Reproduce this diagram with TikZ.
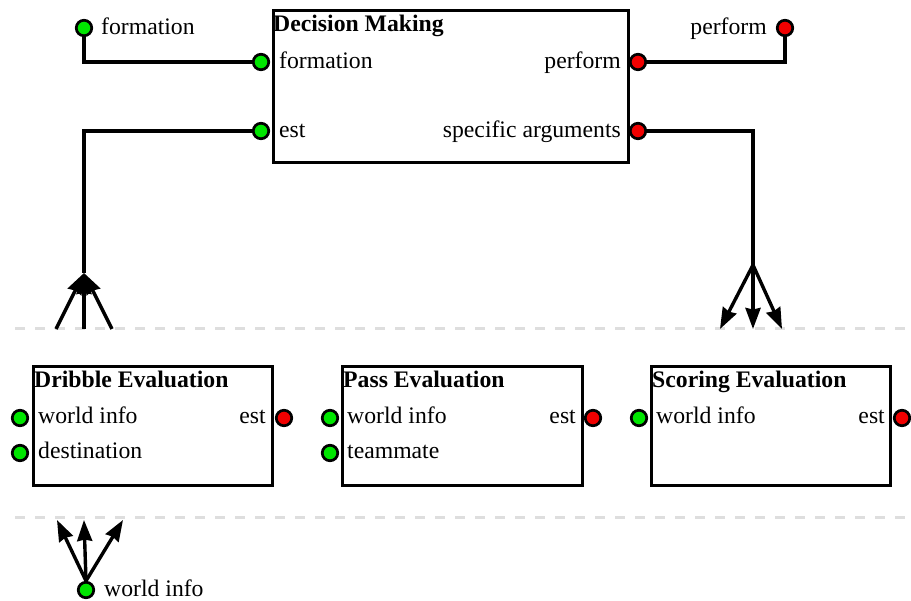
\documentclass[tikz,border=0pt]{standalone}
\usepackage{fontspec}
\setmainfont{Liberation Serif}
\usetikzlibrary{arrows.meta}
\definecolor{portgreen}{RGB}{0,230,0}
\definecolor{portred}{RGB}{240,0,0}
\definecolor{sepgray}{RGB}{222,222,222}
\begin{document}
\begin{tikzpicture}[x=1pt,y=-1pt,
  port/.style={circle, draw=black, line width=2.7pt, minimum size=15.5pt, inner sep=0pt},
  inport/.style={port, fill=portgreen},
  outport/.style={port, fill=portred},
  block/.style={draw=black, line width=3.4pt, inner sep=0pt, anchor=north west, fill=white},
  lbl/.style={inner sep=0pt, font=\fontsize{23.7}{28}\selectfont},
  ttl/.style={lbl, font=\fontsize{23.7}{28}\selectfont\bfseries},
  wire/.style={line width=3.4pt},
  tipwire/.style={line width=3.4pt, -{Stealth[length=21pt,width=15pt,inset=1.5pt]}},
  sep/.style={draw=sepgray, line width=3pt, dash pattern=on 10pt off 10pt}
]
\useasboundingbox (0,0) rectangle (911,601);

% separators
\draw[sep] (15,329) -- (911,329);
\draw[sep] (15,518) -- (911,518);

% Decision Making block
\node[block, minimum width=355pt, minimum height=152pt] (dm) at (272,9) {};
\node[ttl, anchor=base west] (dmt) at (273,32) {Decision Making};
\node[inport] (dmform) at (261,62) {};
\node[inport] (dmest) at (261,131) {};
\node[outport] (dmperf) at (638,62) {};
\node[outport] (dmspec) at (638,131) {};
\node[lbl, anchor=base west] (dmformt) at (279,69) {formation};
\node[lbl, anchor=base west] (dmestt) at (279,138) {est};
\node[lbl, anchor=base east] (dmperft) at (621,69) {perform};
\node[lbl, anchor=base east] (dmspect) at (621,138) {specific arguments};

% external ports
\node[inport] (exform) at (84,28) {};
\node[lbl, anchor=base west] (exformt) at (101,35) {formation};
\node[outport] (experf) at (785,28) {};
\node[lbl, anchor=base east] (experft) at (767,35) {perform};

\draw[wire] (exform) |- (dmform);
\draw[wire] (dmperf) -| (experf);

% Dribble Evaluation
\node[block, minimum width=239pt, minimum height=119pt] (dr) at (32,365) {};
\node[ttl, anchor=base west] (drt) at (34,388) {Dribble Evaluation};
\node[inport] (drw) at (20,418) {};
\node[inport] (drd) at (20,453) {};
\node[outport] (dre) at (284,418) {};
\node[lbl, anchor=base west] (drwt) at (38,424) {world info};
\node[lbl, anchor=base west] (drdt) at (38,459) {destination};
\node[lbl, anchor=base east] (dret) at (266,424) {est};

% Pass Evaluation
\node[block, minimum width=240pt, minimum height=119pt] (pa) at (341,365) {};
\node[ttl, anchor=base west] (pat) at (343,388) {Pass Evaluation};
\node[inport] (paw) at (330,418) {};
\node[inport] (pam) at (330,453) {};
\node[outport] (pae) at (593,418) {};
\node[lbl, anchor=base west] (pawt) at (347,424) {world info};
\node[lbl, anchor=base west] (pamt) at (347,459) {teammate};
\node[lbl, anchor=base east] (paet) at (576,424) {est};

% Scoring Evaluation
\node[block, minimum width=239pt, minimum height=119pt] (sc) at (650,365) {};
\node[ttl, anchor=base west] (sct) at (652,388) {Scoring Evaluation};
\node[inport] (scw) at (639,418) {};
\node[outport] (sce) at (902,418) {};
\node[lbl, anchor=base west] (scwt) at (656,424) {world info};
\node[lbl, anchor=base east] (scet) at (885,424) {est};

% est fan (left)
\coordinate (ltip) at (84,273);
\coordinate (la) at (56,329);
\coordinate (lb) at (84,329);
\coordinate (lc) at (112,329);
\draw[wire] (dmest) -| (ltip);
\draw[tipwire] (la) -- (ltip);
\draw[tipwire] (lb) -- (ltip);
\draw[tipwire] (lc) -- (ltip);

% specific arguments fan (right)
\coordinate (rj) at (753,265);
\coordinate (ra) at (720,329);
\coordinate (rb) at (753,329);
\coordinate (rc) at (782,329);
\draw[wire] (dmspec) -| (rj);
\draw[tipwire] (rj) -- (ra);
\draw[tipwire] (rj) -- (rb);
\draw[tipwire] (rj) -- (rc);

% bottom world info fan
\node[inport] (bw) at (86,590) {};
\node[lbl, anchor=base west] (bwt) at (104,596) {world info};
\coordinate (ba) at (57,520);
\coordinate (bb) at (84,520);
\coordinate (bc) at (123,520);
\draw[tipwire] (bw.north) -- (ba);
\draw[tipwire] (bw.north) -- (bb);
\draw[tipwire] (bw.north) -- (bc);
\end{tikzpicture}
\end{document}
